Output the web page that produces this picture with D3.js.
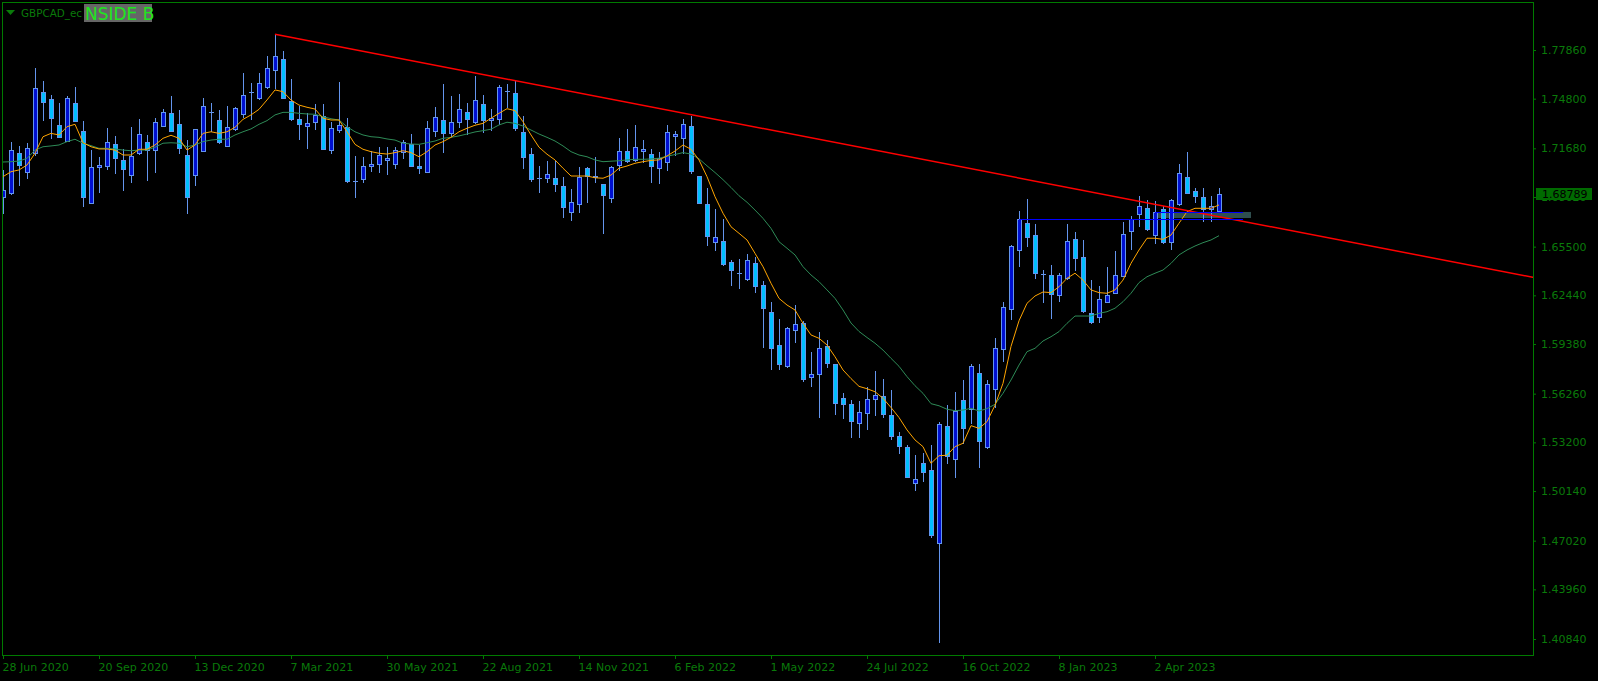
<!DOCTYPE html>
<html><head><meta charset="utf-8">
<script src="https://cdn.jsdelivr.net/npm/d3@7"></script>
<style>
html,body{margin:0;padding:0;background:#000;overflow:hidden}
svg{display:block}
text{font-family:"DejaVu Sans",sans-serif}
</style></head><body>
<svg id="c" width="1598" height="681"></svg>
<script>
// Weekly GBPCAD candles, bar 0 = week of 28 Jun 2020
const opens=[1.6864,1.6885,1.7137,1.7021,1.7137,1.7522,1.7478,1.7315,1.7216,1.7455,
1.7277,1.6826,1.7049,1.7059,1.7193,1.7095,1.6999,1.7137,1.7208,1.7156,
1.7310,1.7388,1.7319,1.7126,1.6999,1.7149,1.7394,1.7346,1.7185,1.7288,
1.7382,1.7519,1.7486,1.7555,1.7658,1.7729,1.7466,1.7350,1.7310,1.7332,
1.7371,1.7156,1.7285,1.7302,1.6960,1.6973,1.7059,1.7068,1.7097,1.7068,
1.7147,1.7195,1.7057,1.7021,1.7275,1.7344,1.7262,1.7332,1.7394,1.7335,
1.7447,1.7346,1.7350,1.7529,1.7516,1.7269,1.7131,1.6981,1.6980,1.6982,
1.6929,1.6766,1.6816,1.7043,1.6986,1.6944,1.6854,1.7061,1.7151,1.7095,
1.7149,1.7131,1.7043,1.7084,1.7246,1.7235,1.7308,1.6994,1.6818,1.6581,
1.6586,1.6454,1.6385,1.6347,1.6447,1.6309,1.6139,1.5932,1.5802,1.6024,
1.6070,1.5733,1.5748,1.5926,1.5813,1.5597,1.5561,1.5444,1.5503,1.5591,
1.5613,1.5492,1.5360,1.5291,1.5063,1.5190,1.5146,1.4686,1.5423,1.5214,
1.5586,1.5532,1.5754,1.5289,1.5654,1.5905,1.6156,1.6527,1.6697,1.6623,
1.6377,1.6372,1.6244,1.6351,1.6598,1.6485,1.6133,1.6106,1.6204,1.6261,
1.6368,1.6650,1.6755,1.6791,1.6625,1.6787,1.6581,1.6816,1.6986,1.6900,
1.6862,1.6787,1.6774];
const highs=[1.7032,1.7210,1.7183,1.7200,1.7675,1.7591,1.7503,1.7455,1.7497,1.7555,
1.7342,1.7157,1.7115,1.7296,1.7246,1.7164,1.7304,1.7352,1.7250,1.7357,
1.7415,1.7497,1.7409,1.7220,1.7291,1.7482,1.7451,1.7409,1.7432,1.7428,
1.7643,1.7577,1.7641,1.7750,1.7885,1.7780,1.7604,1.7434,1.7388,1.7447,
1.7447,1.7335,1.7587,1.7357,1.7120,1.7115,1.7153,1.7175,1.7175,1.7176,
1.7220,1.7258,1.7189,1.7340,1.7430,1.7570,1.7497,1.7511,1.7453,1.7623,
1.7505,1.7417,1.7566,1.7570,1.7593,1.7371,1.7170,1.7057,1.7087,1.7088,
1.6990,1.6911,1.7049,1.7049,1.7115,1.6944,1.7057,1.7231,1.7288,1.7315,
1.7220,1.7162,1.7143,1.7315,1.7277,1.7350,1.7373,1.6994,1.6921,1.6787,
1.6724,1.6466,1.6472,1.6504,1.6487,1.6334,1.6204,1.6095,1.6047,1.6183,
1.6083,1.5886,1.6016,1.5963,1.5813,1.5628,1.5586,1.5580,1.5666,1.5770,
1.5718,1.5649,1.5385,1.5303,1.5241,1.5255,1.5303,1.5450,1.5555,1.5637,
1.5712,1.5813,1.5813,1.5712,1.5976,1.6202,1.6560,1.6776,1.6850,1.6692,
1.6403,1.6435,1.6383,1.6692,1.6644,1.6592,1.6340,1.6305,1.6424,1.6525,
1.6705,1.6745,1.6870,1.6843,1.6837,1.6806,1.6848,1.7068,1.7145,1.6917,
1.6917,1.6868,1.6917];
const lows=[1.6763,1.6881,1.6938,1.6980,1.7126,1.7346,1.7231,1.7237,1.7214,1.7342,
1.6806,1.6826,1.6894,1.7040,1.7015,1.6906,1.6958,1.7132,1.6971,1.7021,
1.7310,1.7277,1.7141,1.6763,1.6939,1.7149,1.7275,1.7202,1.7185,1.7283,
1.7367,1.7350,1.7476,1.7545,1.7545,1.7482,1.7346,1.7229,1.7170,1.7291,
1.7166,1.7141,1.7269,1.6955,1.6864,1.6958,1.7027,1.7021,1.7009,1.7046,
1.7105,1.7057,1.7015,1.7017,1.7246,1.7147,1.7247,1.7302,1.7258,1.7329,
1.7271,1.7283,1.7319,1.7430,1.7283,1.7046,1.6965,1.6892,1.6955,1.6902,
1.6735,1.6718,1.6766,1.6833,1.6958,1.6638,1.6833,1.7032,1.7084,1.7090,
1.7084,1.6958,1.6948,1.7032,1.7126,1.7137,1.7015,1.6823,1.6560,1.6529,
1.6437,1.6309,1.6292,1.6340,1.6267,1.5921,1.5779,1.5779,1.5796,1.5953,
1.5708,1.5676,1.5481,1.5792,1.5496,1.5471,1.5356,1.5352,1.5406,1.5494,
1.5478,1.5339,1.5255,1.5104,1.5021,1.5077,1.4727,1.4067,1.5188,1.5104,
1.5314,1.5440,1.5167,1.5286,1.5544,1.5833,1.6093,1.6430,1.6556,1.6351,
1.6204,1.6100,1.6210,1.6349,1.6403,1.6137,1.6072,1.6075,1.6200,1.6257,
1.6368,1.6533,1.6682,1.6655,1.6573,1.6575,1.6537,1.6812,1.6885,1.6829,
1.6713,1.6713,1.6770];
const closes=[1.6906,1.7157,1.7063,1.7168,1.7545,1.7461,1.7357,1.7241,1.7482,1.7342,
1.6860,1.7051,1.7063,1.7206,1.7109,1.7036,1.7120,1.7258,1.7157,1.7332,
1.7396,1.7279,1.7168,1.6860,1.7290,1.7432,1.7397,1.7206,1.7300,1.7420,
1.7501,1.7521,1.7577,1.7671,1.7746,1.7484,1.7352,1.7323,1.7325,1.7376,
1.7166,1.7294,1.7313,1.6965,1.6962,1.7057,1.7070,1.7126,1.7109,1.7156,
1.7210,1.7059,1.7043,1.7294,1.7363,1.7266,1.7332,1.7413,1.7354,1.7470,
1.7346,1.7359,1.7552,1.7531,1.7294,1.7115,1.6977,1.6983,1.7005,1.6942,
1.6801,1.6829,1.6986,1.6992,1.6996,1.6873,1.7053,1.7149,1.7090,1.7175,
1.7162,1.7055,1.7105,1.7269,1.7258,1.7319,1.7027,1.6826,1.6619,1.6609,
1.6441,1.6403,1.6387,1.6464,1.6305,1.6166,1.5915,1.5814,1.6037,1.6062,
1.5720,1.5750,1.5911,1.5821,1.5569,1.5563,1.5456,1.5509,1.5593,1.5616,
1.5500,1.5362,1.5299,1.5104,1.5088,1.5136,1.4738,1.5435,1.5236,1.5517,
1.5408,1.5800,1.5331,1.5685,1.5911,1.6169,1.6554,1.6724,1.6613,1.6383,
1.6379,1.6251,1.6370,1.6586,1.6477,1.6148,1.6078,1.6219,1.6246,1.6372,
1.6628,1.6724,1.6806,1.6661,1.6766,1.6577,1.6841,1.7011,1.6889,1.6870,
1.6787,1.6806,1.68789];
// Moving averages
const fastMA=[1.6990,1.7021,1.7032,1.7063,1.7137,1.7241,1.7262,1.7252,1.7304,1.7319,
1.7203,1.7178,1.7164,1.7164,1.7157,1.7126,1.7126,1.7162,1.7162,1.7189,
1.7231,1.7250,1.7231,1.7157,1.7189,1.7262,1.7272,1.7262,1.7272,1.7300,
1.7350,1.7378,1.7413,1.7472,1.7535,1.7524,1.7472,1.7440,1.7426,1.7415,
1.7357,1.7346,1.7346,1.7272,1.7193,1.7162,1.7147,1.7137,1.7132,1.7141,
1.7153,1.7141,1.7115,1.7147,1.7189,1.7210,1.7237,1.7272,1.7294,1.7313,
1.7325,1.7357,1.7388,1.7417,1.7405,1.7335,1.7252,1.7175,1.7131,1.7095,
1.7043,1.6994,1.6994,1.6994,1.6983,1.6980,1.7000,1.7043,1.7057,1.7074,
1.7084,1.7092,1.7095,1.7120,1.7151,1.7189,1.7162,1.7095,1.6990,1.6864,
1.6760,1.6675,1.6634,1.6592,1.6508,1.6424,1.6320,1.6225,1.6183,1.6152,
1.6068,1.5995,1.5974,1.5932,1.5858,1.5775,1.5721,1.5672,1.5657,1.5638,
1.5597,1.5539,1.5476,1.5398,1.5335,1.5293,1.5188,1.5236,1.5239,1.5293,
1.5314,1.5425,1.5408,1.5450,1.5553,1.5691,1.5923,1.6084,1.6194,1.6240,
1.6265,1.6261,1.6298,1.6351,1.6383,1.6340,1.6278,1.6261,1.6257,1.6278,
1.6340,1.6445,1.6529,1.6603,1.6603,1.6596,1.6623,1.6697,1.6770,1.6791,
1.6791,1.6791,1.6812];
const slowMA=[1.7082,1.7084,1.7088,1.7105,1.7157,1.7178,1.7183,1.7189,1.7210,1.7225,
1.7200,1.7185,1.7168,1.7168,1.7164,1.7157,1.7153,1.7157,1.7157,1.7175,
1.7200,1.7203,1.7200,1.7178,1.7189,1.7210,1.7220,1.7225,1.7225,1.7252,
1.7272,1.7290,1.7319,1.7342,1.7378,1.7394,1.7394,1.7388,1.7384,1.7382,
1.7367,1.7354,1.7346,1.7304,1.7272,1.7252,1.7241,1.7237,1.7227,1.7220,
1.7200,1.7195,1.7193,1.7203,1.7214,1.7231,1.7237,1.7246,1.7258,1.7271,
1.7279,1.7288,1.7315,1.7332,1.7325,1.7308,1.7283,1.7258,1.7237,1.7214,
1.7183,1.7147,1.7126,1.7115,1.7095,1.7084,1.7087,1.7090,1.7095,1.7099,
1.7099,1.7101,1.7106,1.7118,1.7129,1.7141,1.7132,1.7102,1.7058,1.7016,
1.6971,1.6922,1.6870,1.6829,1.6780,1.6728,1.6665,1.6581,1.6540,1.6498,
1.6424,1.6372,1.6330,1.6278,1.6225,1.6152,1.6070,1.6017,1.5979,1.5943,
1.5900,1.5848,1.5798,1.5733,1.5676,1.5628,1.5563,1.5550,1.5528,1.5519,
1.5523,1.5534,1.5517,1.5532,1.5559,1.5628,1.5712,1.5806,1.5890,1.5911,
1.5957,1.5984,1.6016,1.6068,1.6114,1.6114,1.6114,1.6131,1.6141,1.6163,
1.6204,1.6257,1.6324,1.6361,1.6383,1.6403,1.6445,1.6498,1.6529,1.6554,
1.6575,1.6592,1.6619];
const dateTickBars=[0,12,24,36,48,60,72,84,96,108,120,132,144];
const dateTickLabels=["28 Jun 2020","20 Sep 2020","13 Dec 2020","7 Mar 2021","30 May 2021","22 Aug 2021","14 Nov 2021","6 Feb 2022","1 May 2022","24 Jul 2022","16 Oct 2022","8 Jan 2023","2 Apr 2023"];
const priceTicks=[1.7786,1.7480,1.7168,1.6862,1.6550,1.6244,1.5938,1.5626,1.5320,1.5014,1.4702,1.4396,1.4084];
const lastPrice=1.68789;
const trendBars=[34,191.375], trendPrices=[1.7885,1.6356];
const levelFromBars=[127,144], levelToBars=[155,155], levelPrices=[1.6722,1.6766];
const zoneBars=[144.2,156], zonePrices=[1.6768,1.6730];

const TXT="#0a7a0a", FRAME="#007a00";
const svg=d3.select("#c");
svg.append("rect").attr("width",1598).attr("height",681).attr("fill","#000");
const L=2,R=1534,T=2,B=656;
const x=d3.scaleLinear().domain([0,152]).range([3,1219]);
const y=d3.scaleLinear().domain([1.4084,1.7786]).range([639,50]);

svg.append("defs").append("clipPath").attr("id","clip")
  .append("rect").attr("x",L+1).attr("y",T+1).attr("width",R-L-1).attr("height",B-T-1);
const plot=svg.append("g").attr("clip-path","url(#clip)");

// zone rectangle (background object)
plot.append("rect")
  .attr("x",x(zoneBars[0])).attr("width",x(zoneBars[1])-x(zoneBars[0]))
  .attr("y",y(zonePrices[0])).attr("height",y(zonePrices[1])-y(zonePrices[0]))
  .attr("fill","#2F4F4F");

// candles
const WICK="#6495ED", BULL="#0010D0", BEAR="#00BFFF";
const cg=plot.append("g").attr("shape-rendering","crispEdges");
d3.range(opens.length).forEach(i=>{
  const o=opens[i],h=highs[i],l=lows[i],c=closes[i];
  const cx=Math.round(x(i));
  const yh=Math.round(y(h)), yl=Math.round(y(l));
  cg.append("rect").attr("x",cx).attr("y",yh).attr("width",1).attr("height",yl-yh+1).attr("fill",WICK);
  const top=Math.round(y(Math.max(o,c))), bot=Math.round(y(Math.min(o,c)));
  if(bot-top<1){
    cg.append("rect").attr("x",cx-2).attr("y",top).attr("width",5).attr("height",1).attr("fill",WICK);
  } else {
    const bull=c>=o;
    cg.append("rect").attr("x",cx-2).attr("y",top).attr("width",5).attr("height",bot-top+1)
      .attr("fill",WICK);
    if(bot-top>=2) cg.append("rect").attr("x",cx-1).attr("y",top+1).attr("width",3).attr("height",bot-top-1)
      .attr("fill",bull?BULL:BEAR);
  }
});

// moving averages
const line=d3.line().x((d,i)=>x(i)).y(d=>y(d));
plot.append("path").datum(slowMA).attr("d",line).attr("fill","none").attr("stroke","#2E8B57").attr("stroke-width",1);
plot.append("path").datum(fastMA).attr("d",line).attr("fill","none").attr("stroke","#FFA500").attr("stroke-width",1);

// trendline
plot.append("line").attr("x1",x(trendBars[0])).attr("y1",y(trendPrices[0]))
  .attr("x2",x(trendBars[1])).attr("y2",y(trendPrices[1])).attr("stroke","#FF0000").attr("stroke-width",1.5);

// horizontal levels
levelPrices.forEach((p,i)=>{
  plot.append("line").attr("x1",x(levelFromBars[i])).attr("x2",x(levelToBars[i]))
    .attr("y1",Math.round(y(p))+0.5).attr("y2",Math.round(y(p))+0.5)
    .attr("stroke","#0000FF").attr("stroke-width",1);
});

// frame
svg.append("rect").attr("x",L+0.5).attr("y",T+0.5).attr("width",R-L-1).attr("height",B-T-1)
  .attr("fill","none").attr("stroke",FRAME).attr("stroke-width",1).attr("shape-rendering","crispEdges");

// price axis
const ya=svg.append("g").attr("transform",`translate(${R-1},0)`)
  .call(d3.axisRight(y).tickValues(priceTicks).tickSize(3).tickPadding(5).tickFormat(d3.format(".5f")));
ya.select(".domain").remove();
ya.selectAll("line").attr("stroke",FRAME);
ya.selectAll("text").attr("fill",TXT).attr("font-size",11).attr("font-family","DejaVu Sans");

// date axis
const xa=svg.append("g").attr("transform",`translate(0,${B-1})`)
  .call(d3.axisBottom(x).tickValues(dateTickBars).tickSize(4).tickPadding(4).tickFormat((d,i)=>dateTickLabels[i]));
xa.select(".domain").remove();
xa.selectAll("line").attr("stroke",FRAME);
xa.selectAll("text").attr("fill",TXT).attr("font-size",11).attr("font-family","DejaVu Sans")
  .attr("text-anchor","start").attr("x",-1);

// current price box
const yp=y(lastPrice);
svg.append("rect").attr("x",1536).attr("y",Math.round(yp)-6).attr("width",56).attr("height",12).attr("fill","#006a00");
svg.append("text").attr("x",1542).attr("y",yp+4).attr("fill","#000").attr("font-size",11)
  .attr("font-family","DejaVu Sans").text(d3.format(".5f")(lastPrice));

// header
svg.append("path").attr("d","M6,10 L15,10 L10.5,15 Z").attr("fill",TXT);
svg.append("text").attr("x",21).attr("y",17).attr("fill",TXT).attr("font-size",11)
  .attr("textLength",61).attr("lengthAdjust","spacingAndGlyphs").text("GBPCAD_ec");
svg.append("rect").attr("x",84).attr("y",4).attr("width",68).attr("height",18).attr("fill","#666666");
svg.append("text").attr("x",85).attr("y",19.5).attr("fill","#1ee61e").attr("font-size",17)
  .attr("font-family","Liberation Sans, Arial, sans-serif").text("NSIDE B");
</script>
</body></html>
